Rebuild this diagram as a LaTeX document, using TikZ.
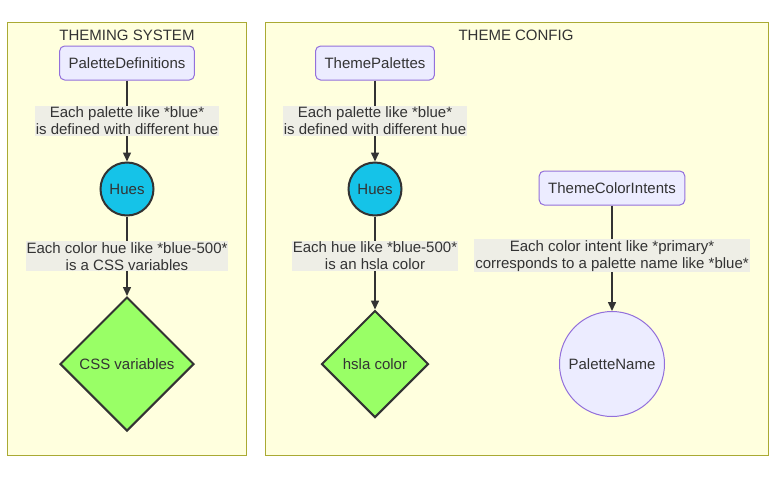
\documentclass[tikz,border=0pt]{standalone}
\usepackage{fontspec}
\setmainfont{Liberation Sans}
\usetikzlibrary{shapes.geometric,arrows.meta,positioning}
\definecolor{clusterfill}{HTML}{FFFFDE}
\definecolor{clusterline}{HTML}{AAAA33}
\definecolor{nodefill}{HTML}{ECECFF}
\definecolor{nodeline}{HTML}{9370DB}
\definecolor{huecyan}{HTML}{15C3E8}
\definecolor{leafgreen}{HTML}{99FF66}
\definecolor{inkgray}{HTML}{333333}
\definecolor{labelbg}{HTML}{EEEEE6}
\begin{document}
\begin{tikzpicture}[x=1pt, y=-1pt,
    font=\fontsize{15}{17}\selectfont, text=inkgray,
    cluster/.style={draw=clusterline, fill=clusterfill, line width=1pt},
    box/.style={draw=nodeline, fill=nodefill, line width=1pt, rounded corners=5pt,
                minimum height=34pt, inner xsep=9pt},
    hue/.style={circle, draw=inkgray, fill=huecyan, line width=2pt,
                minimum size=53pt, inner sep=0pt},
    leaf/.style={diamond, draw=inkgray, fill=leafgreen, line width=2pt, inner sep=0pt},
    flow/.style={draw=inkgray, line width=1.5pt, -{Triangle[length=9pt,width=8pt]}},
    elabel/.style={fill=labelbg, align=center, inner xsep=1pt, inner ysep=1pt}]
    \useasboundingbox (0,0) rectangle (784,477);

    % Clusters
    \draw[cluster] (7,22) rectangle (246,455);
    \draw[cluster] (265,22) rectangle (768,455);
    \node (systitle) at (127,35) {THEMING SYSTEM};
    \node (cfgtitle) at (516,35) {THEME CONFIG};

    % Theming system
    \node[box] (pd) at (127,63) {PaletteDefinitions};
    \node[hue] (hues1) at (127,189) {Hues};
    \node[leaf, minimum width=134pt, minimum height=134pt] (cssvar) at (127,364) {CSS variables};

    % Theme config
    \node[box] (tp) at (375,63) {ThemePalettes};
    \node[hue] (hues2) at (375,189) {Hues};
    \node[leaf, minimum width=107pt, minimum height=107pt] (hsla) at (375,364) {hsla color};
    \node[box] (intents) at (612,188) {ThemeColorIntents};
    \node[circle, draw=nodeline, fill=nodefill, line width=1pt, minimum size=105pt,
          inner sep=0pt] (pname) at (612,364) {PaletteName};

    % Edges
    \draw[flow] (pd) -- node[elabel] {Each palette like *blue*\\is defined with different hue} (hues1);
    \draw[flow] (hues1) -- node[elabel] {Each color hue like *blue-500*\\is a CSS variables} (cssvar);
    \draw[flow] (tp) -- node[elabel] {Each palette like *blue*\\is defined with different hue} (hues2);
    \draw[flow] (hues2) -- node[elabel, pos=0.42] {Each hue like *blue-500*\\is an hsla color} (hsla);
    \draw[flow] (intents) -- node[elabel, pos=0.476] {Each color intent like *primary*\\corresponds to a palette name like *blue*} (pname);
\end{tikzpicture}
\end{document}
